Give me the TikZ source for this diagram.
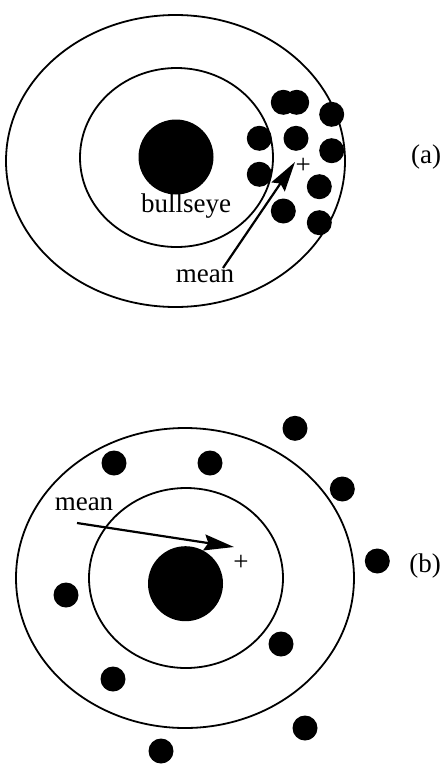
\documentclass[tikz,border=0pt]{standalone}
\usepackage{fontspec}
\setmainfont{Liberation Serif}
\usetikzlibrary{arrows.meta}
\begin{document}
\begin{tikzpicture}[x=1pt,y=-1pt,
  ring/.style={draw=black,line width=1.8pt},
  shot/.style={circle,fill=black,minimum size=25pt,inner sep=0pt},
  eye/.style={circle,fill=black,minimum size=75pt,inner sep=0pt},
  lbl/.style={font=\fontsize{27}{30}\selectfont,inner sep=0pt,anchor=base},
  plus/.style={font=\fontsize{27}{30}\selectfont,inner sep=0pt},
  ptr/.style={line width=2.2pt,-{Stealth[length=30pt,width=16pt,inset=4pt]}}]
\useasboundingbox (0,0) rectangle (446,766);
% ---------------- panel (a) ----------------
\draw[ring] (175.5,161) ellipse [x radius=169.5, y radius=146];
\draw[ring] (176.5,157.5) ellipse [x radius=96.5, y radius=89.5];
\node[eye] (eyeA) at (176,157) {};
\node[shot] (a1) at (283.3,102.3) {};
\node[shot] (a2) at (296.7,102.3) {};
\node[shot] (a3) at (331.7,114.3) {};
\node[shot] (a4) at (259.3,138.3) {};
\node[shot] (a5) at (296,138.3) {};
\node[shot] (a6) at (331.7,150.7) {};
\node[shot] (a7) at (259.3,174.3) {};
\node[shot] (a8) at (319.3,186.7) {};
\node[shot] (a9) at (283.3,211) {};
\node[shot] (a10) at (319.3,222.7) {};
\node[lbl] (bullseye) at (186,212) {bullseye};
\node[lbl] (meanA) at (205,282) {mean};
\node[plus] (plusA) at (303.3,166) {+};
\node[lbl] (labA) at (426,163) {(a)};
\coordinate (tailA) at (223,268);
\coordinate (tipA) at (295,162);
\draw[ptr] (tailA) -- (tipA);
% ---------------- panel (b) ----------------
\draw[ring] (185,578) ellipse [x radius=169, y radius=150];
\draw[ring] (186,578) ellipse [x radius=97, y radius=90];
\node[eye] (eyeB) at (185.5,583.7) {};
\node[shot] (b1) at (295,428.3) {};
\node[shot] (b2) at (114,463) {};
\node[shot] (b3) at (210,463) {};
\node[shot] (b4) at (342.3,489) {};
\node[shot] (b5) at (377.3,561) {};
\node[shot] (b6) at (66,595) {};
\node[shot] (b7) at (281,644) {};
\node[shot] (b8) at (113,679) {};
\node[shot] (b9) at (305,728) {};
\node[shot] (b10) at (161,751) {};
\node[lbl] (meanB) at (84,510) {mean};
\node[plus] (plusB) at (241,563) {+};
\node[lbl] (labB) at (425,572) {(b)};
\coordinate (tailB) at (77,523);
\coordinate (tipB) at (234,547);
\draw[ptr] (tailB) -- (tipB);
\end{tikzpicture}
\end{document}
